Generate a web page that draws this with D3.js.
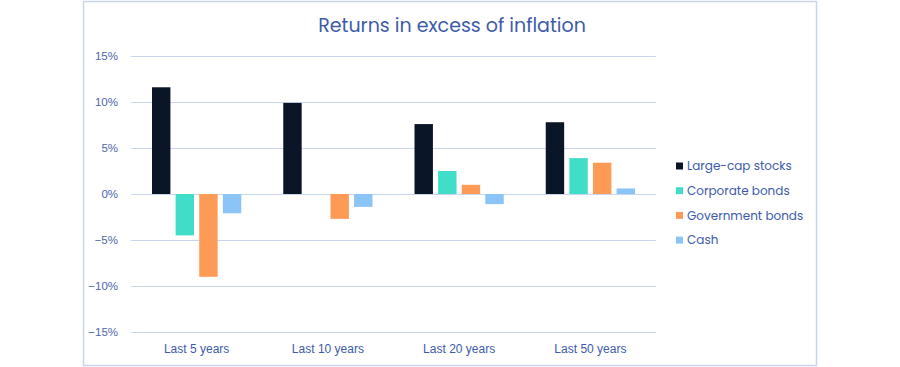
<!DOCTYPE html>
<html><head><meta charset="utf-8">
<script src="https://cdn.jsdelivr.net/npm/d3@7"></script>
<style>
body{margin:0;background:#fff;}
svg{display:block;font-family:"Poppins","Inter","Noto Sans",sans-serif;}
</style></head>
<body><svg id="c" width="900" height="367"></svg>
<script>
const categories = ["Last 5 years","Last 10 years","Last 20 years","Last 50 years"];
const seriesNames = ["Large-cap stocks","Corporate bonds","Government bonds","Cash"];
const stocks = [11.6, 9.9, 7.6, 7.8];
const corporate = [-4.5, 0, 2.5, 3.9];
const government = [-9.0, -2.7, 1.0, 3.4];
const cash = [-2.1, -1.4, -1.1, 0.6];
const yTicks = [-15,-10,-5,0,5,10,15];
const colors = ["#0b1528","#40dec8","#fd9a55","#8bc4f7"];
const title = "Returns in excess of inflation";

const series = [stocks, corporate, government, cash];
const textColor = "#3d5ba9";
const gridColor = "#c7d5ef";

const svg = d3.select("#c");
svg.append("rect").attr("x",83.5).attr("y",1.5).attr("width",733).attr("height",364)
  .attr("fill","#fff").attr("stroke","#c9d5ec").attr("stroke-width",1.5);

const x0 = d3.scaleBand().domain(categories).range([131,656]).paddingInner(0).paddingOuter(0);
const x1 = d3.scaleBand().domain(seriesNames).range([21, x0.bandwidth()-21]).paddingInner(0.22).paddingOuter(0);
const y = d3.scaleLinear().domain([-15,15]).range([332,56]);

const yAxis = d3.axisLeft(y).tickValues(yTicks).tickSize(-(656-131)).tickFormat(d=> (d<0?"\u2212"+Math.abs(d):d)+"%");
const gy = svg.append("g").attr("transform","translate(131,0)").call(yAxis);
gy.select(".domain").remove();
gy.selectAll(".tick line").attr("stroke",gridColor).attr("stroke-width",1);
gy.selectAll(".tick text").attr("fill","#4d67ab").attr("font-size",11.5).attr("x",-13);

const xAxis = d3.axisBottom(x0).tickSize(0);
const gx = svg.append("g").attr("transform","translate(0,341)").call(xAxis);
gx.select(".domain").remove();
gx.selectAll(".tick text").attr("fill",textColor).attr("font-size",12).attr("dy","0.71em");

const groups = svg.append("g").selectAll("g").data(categories).join("g")
  .attr("transform", d=>`translate(${x0(d)},0)`);
groups.selectAll("rect").data((c,i)=>series.map((s,j)=>({name:seriesNames[j], v:s[i], j})))
  .join("rect")
  .attr("x", d=>x1(d.name))
  .attr("width", x1.bandwidth())
  .attr("y", d=>y(Math.max(0,d.v)))
  .attr("height", d=>Math.abs(y(d.v)-y(0)))
  .attr("fill", d=>colors[d.j]);

svg.append("text").attr("x",452).attr("y",32).attr("text-anchor","middle")
  .attr("fill",textColor).attr("font-size",19).text(title);

const leg = svg.append("g").attr("transform","translate(676,166)");
const li = leg.selectAll("g").data(seriesNames).join("g").attr("transform",(d,i)=>`translate(0,${i*24.7})`);
li.append("rect").attr("x",0).attr("y",-3.5).attr("width",7).attr("height",7).attr("fill",(d,i)=>colors[i]);
li.append("text").attr("x",11).attr("y",0).attr("dy","0.35em").attr("fill",textColor).attr("font-size",12).text(d=>d);
</script></body></html>
